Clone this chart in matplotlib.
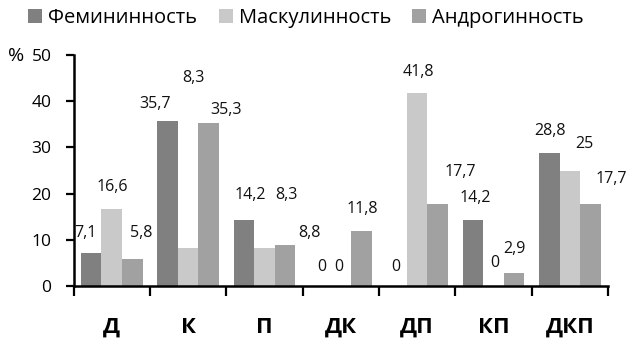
import numpy as np
import matplotlib
matplotlib.use('Agg')
import matplotlib.pyplot as plt
from matplotlib.ticker import FixedLocator

plt.rcParams['font.family'] = ['Open Sans', 'DejaVu Sans']

categories = ['Д', 'К', 'П', 'ДК', 'ДП', 'КП', 'ДКП']
series_names = ['Фемининность', 'Маскулинность', 'Андрогинность']
feminine = [7.1, 35.7, 14.2, 0, 0, 14.2, 28.8]
masculine = [16.6, 8.3, 8.3, 0, 41.8, 0, 25]
androgyny = [5.8, 35.3, 8.8, 11.8, 17.7, 2.9, 17.7]
colors = ['#808080', '#c9c9c9', '#a1a1a1']

# label offsets (pixels) from each bar top, mimicking the original placement
label_dx = [[-6, -12, 6, 2, -1, 2, 1],
            [1, 5, 22, -2, 1, 1, 15],
            [9, 17, 24, 1, 23, 0, 21]]
label_dy = [[20, 17, 25, 19, 19, 22, 22],
            [22, 170, 53, 19, 21, 23, 27],
            [26, 13, 12, 22, 32, 24, 25]]

fig = plt.figure(figsize=(6.32, 3.44), dpi=100)
ax = fig.add_axes([0.1165, 0.1686, 0.9620 - 0.1165, 0.8400 - 0.1686])

x = np.arange(len(categories))
w = 0.27
for k, vals in enumerate([feminine, masculine, androgyny]):
    pos = x + (k - 1) * w
    ax.bar(pos, vals, width=w, color=colors[k], label=series_names[k])
    for i, v in enumerate(vals):
        txt = f'{v:g}'.replace('.', ',')
        ax.annotate(txt, (pos[i], v), xytext=(label_dx[k][i], label_dy[k][i]),
                    textcoords='offset pixels', ha='center', va='center',
                    fontsize=11.5, color='#111111')

ax.set_xlim(-0.5, len(categories) - 0.5)
ax.set_ylim(0, 50)
ax.set_yticks([0, 10, 20, 30, 40, 50])
ax.set_xticks(x)
ax.set_xticklabels(categories, fontsize=16, fontweight='bold')
ax.xaxis.set_minor_locator(FixedLocator(np.arange(-0.5, len(categories), 1)))
ax.tick_params(axis='x', which='major', length=0, pad=22)
ax.tick_params(axis='x', which='minor', length=7, width=1.6, direction='out')
ax.tick_params(axis='y', length=6, width=1.6, direction='out', pad=10, labelsize=12.5)

for s in ['top', 'right']:
    ax.spines[s].set_visible(False)
for s in ['left', 'bottom']:
    ax.spines[s].set_linewidth(1.8)

fig.text(0.012, 0.838, '%', fontsize=14, va='center', ha='left')

fig.legend(loc='upper left', bbox_to_anchor=(0.032, 1.0), ncol=3, frameon=False,
           fontsize=14.5, handlelength=0.7, handleheight=0.7, handletextpad=0.3,
           columnspacing=1.05, borderaxespad=0)

fig.savefig('out.png', dpi=100)
